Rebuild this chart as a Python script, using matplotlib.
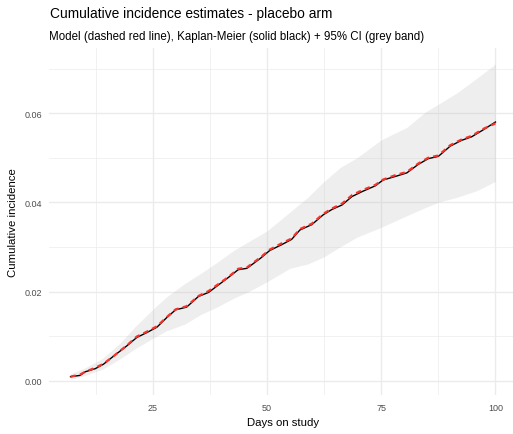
import numpy as np
import matplotlib
matplotlib.use("Agg")
import matplotlib.pyplot as plt

plt.rcParams['font.family'] = ['Liberation Sans', 'DejaVu Sans']

# Kaplan-Meier estimate
km_days = [7.0, 9.1, 10.2, 12.4, 14.2, 16.4, 19.3, 21.5, 23.7, 25.9, 28.1, 30.0,
           32.4, 35.0, 37.2, 39.4, 41.6, 43.7, 45.6, 48.5, 50.6, 53.2, 55.4, 57.2,
           59.8, 62.3, 64.2, 66.4, 68.6, 70.8, 73.7, 75.4, 78.4, 80.6, 83.1, 85.3,
           87.5, 90.1, 92.6, 94.8, 97.4, 100.0]
km_inc = [0.0009, 0.0012, 0.0020, 0.0027, 0.0037, 0.0055, 0.0078, 0.0097, 0.0108,
          0.0120, 0.0142, 0.0159, 0.0165, 0.0189, 0.0198, 0.0215, 0.0232, 0.0249,
          0.0252, 0.0274, 0.0292, 0.0305, 0.0317, 0.0338, 0.0350, 0.0372, 0.0384,
          0.0394, 0.0413, 0.0424, 0.0437, 0.0450, 0.0459, 0.0466, 0.0485, 0.0498,
          0.0503, 0.0526, 0.0539, 0.0547, 0.0563, 0.0580]

# model curve (dashed red), sits on top of KM
model_inc = [0.0009, 0.0014, 0.0020, 0.0029, 0.0038, 0.0055, 0.0079, 0.0099, 0.0110,
             0.0122, 0.0143, 0.0160, 0.0167, 0.0190, 0.0201, 0.0217, 0.0233, 0.0251,
             0.0254, 0.0276, 0.0294, 0.0308, 0.0319, 0.0340, 0.0352, 0.0374, 0.0386,
             0.0397, 0.0416, 0.0427, 0.0439, 0.0451, 0.0462, 0.0468, 0.0487, 0.0500,
             0.0505, 0.0528, 0.0541, 0.0549, 0.0565, 0.0577]

# 95% CI band
ci_days = [7, 10, 14, 18, 21, 25, 28, 32, 35.4, 39, 42.7, 46, 50, 55, 59, 62.3, 66,
           69.7, 75, 80.6, 84.6, 87.5, 91.5, 95.9, 100]
ci_low = [0.0003, 0.0011, 0.0026, 0.0050, 0.0071, 0.0095, 0.0112, 0.0127, 0.0148,
          0.0165, 0.0185, 0.0200, 0.0222, 0.0252, 0.0262, 0.0277, 0.0300, 0.0322,
          0.0344, 0.0370, 0.0388, 0.0400, 0.0411, 0.0426, 0.0447]
ci_high = [0.0016, 0.0028, 0.0050, 0.0086, 0.0120, 0.0160, 0.0188, 0.0218, 0.0240,
           0.0265, 0.0292, 0.0312, 0.0336, 0.0378, 0.0412, 0.0445, 0.0478, 0.0500,
           0.0540, 0.0568, 0.0602, 0.0620, 0.0645, 0.0678, 0.0710]

fig = plt.figure(figsize=(5.13, 4.35), dpi=100)
W, H = 513, 435
ax = fig.add_axes([49.3 / W, 1 - 396 / H, (516.7 - 49.3) / W, (396 - 49) / H])

grid_col = '#EBEBEB'
for x in [12.5, 37.5, 62.5, 87.5]:
    ax.axvline(x, color=grid_col, lw=0.5, zorder=0)
for x in [25, 50, 75, 100]:
    ax.axvline(x, color=grid_col, lw=0.95, zorder=0)
for y in [0.01, 0.03, 0.05, 0.07]:
    ax.axhline(y, color=grid_col, lw=0.5, zorder=0)
for y in [0.0, 0.02, 0.04, 0.06]:
    ax.axhline(y, color=grid_col, lw=0.95, zorder=0)

ax.fill_between(ci_days, ci_low, ci_high, color='#BEBEBE', alpha=0.25, lw=0, zorder=1)
ax.plot(km_days, km_inc, color='black', lw=1.0, zorder=2)
ax.plot(km_days, model_inc, color='#F8312A', lw=1.6, dashes=(2.4, 1.9), zorder=3)

ax.set_xlim(2.35, 104.65)
ax.set_ylim(-0.0032, 0.0746)
ax.set_xticks([25, 50, 75, 100])
ax.set_yticks([0.0, 0.02, 0.04, 0.06])
ax.set_yticklabels(['0.00', '0.02', '0.04', '0.06'])
ax.tick_params(length=0, labelsize=6.5, labelcolor='#4D4D4D')
ax.tick_params(axis='y', pad=5)
ax.tick_params(axis='x', pad=6)
for s in ax.spines.values():
    s.set_visible(False)

fig.text(50 / W, 1 - 14 / H, 'Cumulative incidence estimates - placebo arm',
         fontsize=9.9, ha='left', va='center')
fig.text(49.3 / W, 1 - 37 / H,
         'Model (dashed red line), Kaplan-Meier (solid black) + 95% CI (grey band)',
         fontsize=8.3, ha='left', va='center')
fig.text(283 / W, 1 - 423 / H, 'Days on study', fontsize=8.2, ha='center', va='center')
fig.text(13 / W, 1 - 223 / H, 'Cumulative incidence', fontsize=8.2, ha='center',
         va='center', rotation=90)

fig.savefig('out.png', dpi=100)
